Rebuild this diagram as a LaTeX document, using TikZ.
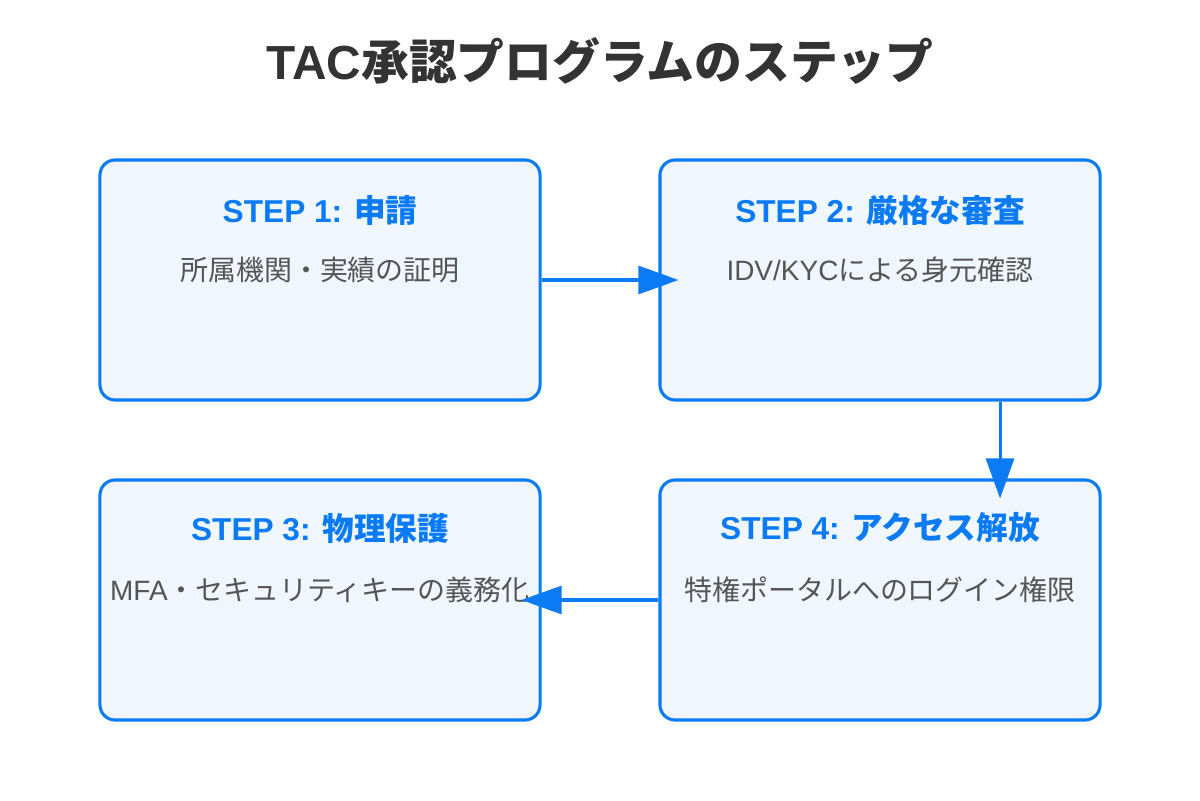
\documentclass[tikz,border=0pt]{standalone}
\usepackage{fontspec}
\setmainfont{Liberation Sans}
\newfontfamily\cjk{Noto Sans CJK JP}
\usetikzlibrary{arrows.meta}
\definecolor{stepblue}{HTML}{0A7BF5}
\definecolor{stepfill}{HTML}{F0F7FF}
\definecolor{titlegray}{HTML}{333333}
\definecolor{textgray}{HTML}{555555}

\begin{document}
\begin{tikzpicture}[x=0.025cm, y=-0.025cm, >={Triangle[length=1cm, width=0.7cm]},
    stepbox/.style={draw=stepblue, line width=2.2pt, fill=stepfill, rounded corners=0.38cm,
      minimum width=11cm, minimum height=6cm, inner sep=0pt},
    head/.style={text=stepblue, font=\fontsize{22.5pt}{26pt}\selectfont\bfseries},
    desc/.style={text=textgray, font=\fontsize{19.9pt}{24pt}\selectfont},
    flow/.style={->, draw=stepblue, fill=stepblue, line width=2.2pt, shorten >=-0.5cm}]
    \useasboundingbox (0,0) rectangle (1200,800);

    % タイトル
    \node[text=titlegray, font=\fontsize{34pt}{38pt}\selectfont\bfseries] (title) at (600,61)
        {TAC{\cjk 承認プログラムのステップ}};

    % ステップ枠
    \node[stepbox] (s1) at (320,280) {};
    \node[stepbox] (s2) at (880,280) {};
    \node[stepbox] (s3) at (320,600) {};
    \node[stepbox] (s4) at (880,600) {};

    % 見出しと説明
    \node[head] (h1) at (320,210) {STEP 1: {\cjk 申請}};
    \node[desc] (d1) at (320,270) {\cjk 所属機関・実績の証明};
    \node[head] (h2) at (880,210) {STEP 2: {\cjk 厳格な審査}};
    \node[desc] (d2) at (880,270) {IDV/KYC{\cjk による身元確認}};
    \node[head] (h3) at (320,528) {STEP 3: {\cjk 物理保護}};
    \node[desc] (d3) at (320,590) {MFA{\cjk ・セキュリティキーの義務化}};
    \node[head] (h4) at (880,528) {STEP 4: {\cjk アクセス解放}};
    \node[desc] (d4) at (880,590) {\cjk 特権ポータルへのログイン権限};

    % 矢印
    \draw[flow] (s1) -- (s2);
    \draw[flow] ([xshift=3cm]s2.south) -- ([xshift=3cm]s4.north);
    \draw[flow] (s4) -- (s3);
\end{tikzpicture}
\end{document}
